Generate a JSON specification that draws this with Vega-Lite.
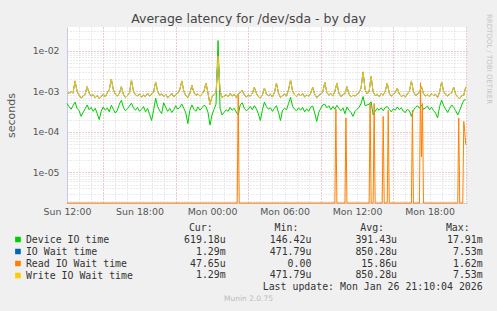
{
"$schema":"https://vega.github.io/schema/vega-lite/v6.json",
"width":400,"height":176,
"autosize":{"type":"none"},
"padding":{"left":67,"top":27,"right":30,"bottom":108},
"background":"#f0f0f0",
"config":{"view":{"fill":"#ffffff","stroke":null},"font":"DejaVu Sans"},
"title":{"text":"Average latency for /dev/sda - by day","font":"DejaVu Sans","fontSize":12.5,"fontWeight":"normal","color":"#444444","anchor":"middle","frame":"group","dx":-18.5,"offset":-12},
"datasets":{
"main":[
{"t":"2026-01-25T12:00","d":5.0e-4,"w":9.5e-4},{"t":"2026-01-25T12:10","d":4.2e-4,"w":8.8e-4},{"t":"2026-01-25T12:20","d":3.6e-4,"w":1.0e-3},{"t":"2026-01-25T12:30","d":4.4e-4,"w":9.0e-4},{"t":"2026-01-25T12:40","d":5.4e-4,"w":1.8e-3},{"t":"2026-01-25T12:50","d":3.8e-4,"w":1.0e-3},
{"t":"2026-01-25T13:00","d":3.3e-4,"w":8.0e-4},{"t":"2026-01-25T13:10","d":2.4e-4,"w":6.8e-4},{"t":"2026-01-25T13:20","d":3.0e-4,"w":7.5e-4},{"t":"2026-01-25T13:30","d":3.7e-4,"w":8.5e-4},{"t":"2026-01-25T13:40","d":4.6e-4,"w":1.3e-3},{"t":"2026-01-25T13:50","d":3.5e-4,"w":9.0e-4},
{"t":"2026-01-25T14:00","d":4.0e-4,"w":7.6e-4},{"t":"2026-01-25T14:10","d":3.2e-4,"w":8.2e-4},{"t":"2026-01-25T14:20","d":3.8e-4,"w":6.9e-4},{"t":"2026-01-25T14:30","d":2.8e-4,"w":7.8e-4},{"t":"2026-01-25T14:40","d":2.0e-4,"w":6.6e-4},{"t":"2026-01-25T14:50","d":3.2e-4,"w":7.4e-4},
{"t":"2026-01-25T15:00","d":4.1e-4,"w":8.6e-4},{"t":"2026-01-25T15:10","d":3.4e-4,"w":7.2e-4},{"t":"2026-01-25T15:20","d":3.9e-4,"w":9.2e-4},{"t":"2026-01-25T15:30","d":3.1e-4,"w":1.1e-3},{"t":"2026-01-25T15:40","d":4.5e-4,"w":2.0e-3},{"t":"2026-01-25T15:50","d":3.6e-4,"w":1.1e-3},
{"t":"2026-01-25T16:00","d":2.9e-4,"w":8.4e-4},{"t":"2026-01-25T16:10","d":3.4e-4,"w":7.6e-4},{"t":"2026-01-25T16:20","d":4.8e-4,"w":8.8e-4},{"t":"2026-01-25T16:30","d":6.0e-4,"w":1.3e-3},{"t":"2026-01-25T16:40","d":4.0e-4,"w":8.4e-4},{"t":"2026-01-25T16:50","d":3.3e-4,"w":7.0e-4},
{"t":"2026-01-25T17:00","d":3.7e-4,"w":7.8e-4},{"t":"2026-01-25T17:10","d":4.3e-4,"w":9.0e-4},{"t":"2026-01-25T17:20","d":5.1e-4,"w":1.9e-3},{"t":"2026-01-25T17:30","d":3.9e-4,"w":1.0e-3},{"t":"2026-01-25T17:40","d":3.4e-4,"w":8.2e-4},{"t":"2026-01-25T17:50","d":4.0e-4,"w":7.6e-4},
{"t":"2026-01-25T18:00","d":3.2e-4,"w":8.6e-4},{"t":"2026-01-25T18:10","d":3.6e-4,"w":7.2e-4},{"t":"2026-01-25T18:20","d":4.2e-4,"w":8.0e-4},{"t":"2026-01-25T18:30","d":3.1e-4,"w":7.4e-4},{"t":"2026-01-25T18:40","d":3.8e-4,"w":8.8e-4},{"t":"2026-01-25T18:50","d":2.7e-4,"w":7.6e-4},
{"t":"2026-01-25T19:00","d":1.9e-4,"w":8.4e-4},{"t":"2026-01-25T19:10","d":3.4e-4,"w":9.6e-4},{"t":"2026-01-25T19:20","d":6.7e-4,"w":1.7e-3},{"t":"2026-01-25T19:30","d":4.2e-4,"w":1.0e-3},{"t":"2026-01-25T19:40","d":3.3e-4,"w":8.0e-4},{"t":"2026-01-25T19:50","d":2.8e-4,"w":8.6e-4},
{"t":"2026-01-25T20:00","d":5.2e-4,"w":7.4e-4},{"t":"2026-01-25T20:10","d":4.0e-4,"w":8.4e-4},{"t":"2026-01-25T20:20","d":3.2e-4,"w":7.0e-4},{"t":"2026-01-25T20:30","d":3.8e-4,"w":7.8e-4},{"t":"2026-01-25T20:40","d":3.0e-4,"w":8.8e-4},{"t":"2026-01-25T20:50","d":3.5e-4,"w":7.2e-4},
{"t":"2026-01-25T21:00","d":4.4e-4,"w":8.2e-4},{"t":"2026-01-25T21:10","d":3.6e-4,"w":9.0e-4},{"t":"2026-01-25T21:20","d":4.0e-4,"w":1.1e-3},{"t":"2026-01-25T21:30","d":4.8e-4,"w":1.8e-3},{"t":"2026-01-25T21:40","d":3.8e-4,"w":1.0e-3},{"t":"2026-01-25T21:50","d":2.9e-4,"w":7.8e-4},
{"t":"2026-01-25T22:00","d":1.6e-4,"w":7.0e-4},{"t":"2026-01-25T22:10","d":3.4e-4,"w":9.0e-4},{"t":"2026-01-25T22:20","d":4.6e-4,"w":1.4e-3},{"t":"2026-01-25T22:30","d":3.6e-4,"w":9.4e-4},{"t":"2026-01-25T22:40","d":3.2e-4,"w":8.0e-4},{"t":"2026-01-25T22:50","d":4.1e-4,"w":8.6e-4},
{"t":"2026-01-25T23:00","d":3.4e-4,"w":7.6e-4},{"t":"2026-01-25T23:10","d":3.9e-4,"w":8.4e-4},{"t":"2026-01-25T23:20","d":4.5e-4,"w":1.0e-3},{"t":"2026-01-25T23:30","d":4.2e-4,"w":1.6e-3},{"t":"2026-01-25T23:40","d":3.0e-4,"w":9.0e-4},{"t":"2026-01-25T23:50","d":1.46e-4,"w":4.72e-4},
{"t":"2026-01-26T00:00","d":2.6e-4,"w":7.4e-4},{"t":"2026-01-26T00:10","d":3.6e-4,"w":8.2e-4},{"t":"2026-01-26T00:20","d":4.8e-4,"w":9.0e-4},{"t":"2026-01-26T00:30","d":1.791e-2,"w":7.53e-3},{"t":"2026-01-26T00:40","d":3.8e-4,"w":1.0e-3},{"t":"2026-01-26T00:50","d":2.6e-4,"w":7.0e-4},
{"t":"2026-01-26T01:00","d":3.0e-4,"w":7.6e-4},{"t":"2026-01-26T01:10","d":3.5e-4,"w":8.2e-4},{"t":"2026-01-26T01:20","d":3.2e-4,"w":7.2e-4},{"t":"2026-01-26T01:30","d":4.0e-4,"w":8.8e-4},{"t":"2026-01-26T01:40","d":3.4e-4,"w":7.6e-4},{"t":"2026-01-26T01:50","d":3.8e-4,"w":8.4e-4},
{"t":"2026-01-26T02:00","d":3.1e-4,"w":7.0e-4},{"t":"2026-01-26T02:10","d":2.6e-4,"w":8.6e-4},{"t":"2026-01-26T02:20","d":4.6e-4,"w":9.2e-4},{"t":"2026-01-26T02:30","d":5.2e-4,"w":1.05e-3},{"t":"2026-01-26T02:40","d":3.8e-4,"w":8.2e-4},{"t":"2026-01-26T02:50","d":3.3e-4,"w":7.2e-4},
{"t":"2026-01-26T03:00","d":3.6e-4,"w":8.0e-4},{"t":"2026-01-26T03:10","d":4.2e-4,"w":7.6e-4},{"t":"2026-01-26T03:20","d":3.5e-4,"w":8.8e-4},{"t":"2026-01-26T03:30","d":4.4e-4,"w":1.25e-3},{"t":"2026-01-26T03:40","d":3.7e-4,"w":9.0e-4},{"t":"2026-01-26T03:50","d":2.8e-4,"w":7.4e-4},
{"t":"2026-01-26T04:00","d":1.9e-4,"w":6.8e-4},{"t":"2026-01-26T04:10","d":3.4e-4,"w":8.0e-4},{"t":"2026-01-26T04:20","d":5.4e-4,"w":1.2e-3},{"t":"2026-01-26T04:30","d":4.2e-4,"w":8.6e-4},{"t":"2026-01-26T04:40","d":3.6e-4,"w":7.8e-4},{"t":"2026-01-26T04:50","d":3.9e-4,"w":8.4e-4},
{"t":"2026-01-26T05:00","d":3.2e-4,"w":7.2e-4},{"t":"2026-01-26T05:10","d":3.8e-4,"w":9.4e-4},{"t":"2026-01-26T05:20","d":4.4e-4,"w":1.6e-3},{"t":"2026-01-26T05:30","d":3.0e-4,"w":9.0e-4},{"t":"2026-01-26T05:40","d":1.9e-4,"w":7.0e-4},{"t":"2026-01-26T05:50","d":3.4e-4,"w":7.8e-4},
{"t":"2026-01-26T06:00","d":3.8e-4,"w":8.4e-4},{"t":"2026-01-26T06:10","d":3.5e-4,"w":7.6e-4},{"t":"2026-01-26T06:20","d":5.0e-4,"w":1.1e-3},{"t":"2026-01-26T06:30","d":7.1e-4,"w":1.9e-3},{"t":"2026-01-26T06:40","d":4.2e-4,"w":1.0e-3},{"t":"2026-01-26T06:50","d":3.6e-4,"w":8.2e-4},
{"t":"2026-01-26T07:00","d":3.3e-4,"w":7.4e-4},{"t":"2026-01-26T07:10","d":3.9e-4,"w":8.6e-4},{"t":"2026-01-26T07:20","d":3.4e-4,"w":7.8e-4},{"t":"2026-01-26T07:30","d":4.0e-4,"w":8.8e-4},{"t":"2026-01-26T07:40","d":3.1e-4,"w":7.2e-4},{"t":"2026-01-26T07:50","d":3.7e-4,"w":8.0e-4},
{"t":"2026-01-26T08:00","d":3.2e-4,"w":7.6e-4},{"t":"2026-01-26T08:10","d":4.1e-4,"w":9.0e-4},{"t":"2026-01-26T08:20","d":4.3e-4,"w":1.25e-3},{"t":"2026-01-26T08:30","d":2.9e-4,"w":8.4e-4},{"t":"2026-01-26T08:40","d":1.8e-4,"w":7.0e-4},{"t":"2026-01-26T08:50","d":3.0e-4,"w":7.8e-4},
{"t":"2026-01-26T09:00","d":3.8e-4,"w":8.6e-4},{"t":"2026-01-26T09:10","d":4.6e-4,"w":9.6e-4},{"t":"2026-01-26T09:20","d":4.8e-4,"w":1.65e-3},{"t":"2026-01-26T09:30","d":3.9e-4,"w":9.4e-4},{"t":"2026-01-26T09:40","d":4.4e-4,"w":8.0e-4},{"t":"2026-01-26T09:50","d":3.5e-4,"w":8.8e-4},
{"t":"2026-01-26T10:00","d":4.2e-4,"w":7.6e-4},{"t":"2026-01-26T10:10","d":3.6e-4,"w":1.0e-3},{"t":"2026-01-26T10:20","d":4.5e-4,"w":1.6e-3},{"t":"2026-01-26T10:30","d":3.8e-4,"w":9.0e-4},{"t":"2026-01-26T10:40","d":3.3e-4,"w":7.4e-4},{"t":"2026-01-26T10:50","d":3.9e-4,"w":8.2e-4},
{"t":"2026-01-26T11:00","d":2.8e-4,"w":8.8e-4},{"t":"2026-01-26T11:10","d":4.1e-4,"w":1.3e-3},{"t":"2026-01-26T11:20","d":3.4e-4,"w":8.6e-4},{"t":"2026-01-26T11:30","d":3.0e-4,"w":7.2e-4},{"t":"2026-01-26T11:40","d":2.4e-4,"w":8.0e-4},{"t":"2026-01-26T11:50","d":3.2e-4,"w":7.6e-4},
{"t":"2026-01-26T12:00","d":3.6e-4,"w":8.4e-4},{"t":"2026-01-26T12:10","d":4.0e-4,"w":9.2e-4},{"t":"2026-01-26T12:20","d":5.0e-4,"w":1.2e-3},{"t":"2026-01-26T12:30","d":7.4e-4,"w":3.0e-3},{"t":"2026-01-26T12:40","d":4.4e-4,"w":1.1e-3},{"t":"2026-01-26T12:50","d":4.6e-4,"w":8.6e-4},
{"t":"2026-01-26T13:00","d":4.8e-4,"w":1.0e-3},{"t":"2026-01-26T13:10","d":5.5e-4,"w":2.3e-3},{"t":"2026-01-26T13:20","d":2.6e-4,"w":9.6e-4},{"t":"2026-01-26T13:30","d":3.2e-4,"w":7.8e-4},{"t":"2026-01-26T13:40","d":3.8e-4,"w":8.4e-4},{"t":"2026-01-26T13:50","d":3.4e-4,"w":7.4e-4},
{"t":"2026-01-26T14:00","d":3.9e-4,"w":8.8e-4},{"t":"2026-01-26T14:10","d":3.3e-4,"w":8.0e-4},{"t":"2026-01-26T14:20","d":4.0e-4,"w":1.0e-3},{"t":"2026-01-26T14:30","d":4.2e-4,"w":1.6e-3},{"t":"2026-01-26T14:40","d":3.6e-4,"w":9.0e-4},{"t":"2026-01-26T14:50","d":3.1e-4,"w":7.6e-4},
{"t":"2026-01-26T15:00","d":3.7e-4,"w":8.2e-4},{"t":"2026-01-26T15:10","d":3.4e-4,"w":9.4e-4},{"t":"2026-01-26T15:20","d":4.1e-4,"w":1.2e-3},{"t":"2026-01-26T15:30","d":3.5e-4,"w":8.6e-4},{"t":"2026-01-26T15:40","d":3.9e-4,"w":7.4e-4},{"t":"2026-01-26T15:50","d":3.2e-4,"w":8.0e-4},
{"t":"2026-01-26T16:00","d":3.0e-4,"w":7.2e-4},{"t":"2026-01-26T16:10","d":3.6e-4,"w":8.6e-4},{"t":"2026-01-26T16:20","d":3.3e-4,"w":1.0e-3},{"t":"2026-01-26T16:30","d":2.4e-4,"w":1.8e-3},{"t":"2026-01-26T16:40","d":3.4e-4,"w":1.0e-3},{"t":"2026-01-26T16:50","d":4.0e-4,"w":7.8e-4},
{"t":"2026-01-26T17:00","d":4.4e-4,"w":8.4e-4},{"t":"2026-01-26T17:10","d":3.8e-4,"w":9.6e-4},{"t":"2026-01-26T17:20","d":4.6e-4,"w":1.3e-3},{"t":"2026-01-26T17:30","d":3.6e-4,"w":8.8e-4},{"t":"2026-01-26T17:40","d":3.9e-4,"w":7.6e-4},{"t":"2026-01-26T17:50","d":4.3e-4,"w":8.2e-4},
{"t":"2026-01-26T18:00","d":3.5e-4,"w":7.4e-4},{"t":"2026-01-26T18:10","d":4.0e-4,"w":8.8e-4},{"t":"2026-01-26T18:20","d":3.3e-4,"w":7.8e-4},{"t":"2026-01-26T18:30","d":2.9e-4,"w":8.4e-4},{"t":"2026-01-26T18:40","d":2.2e-4,"w":7.0e-4},{"t":"2026-01-26T18:50","d":4.2e-4,"w":9.6e-4},
{"t":"2026-01-26T19:00","d":6.0e-4,"w":1.7e-3},{"t":"2026-01-26T19:10","d":4.4e-4,"w":1.0e-3},{"t":"2026-01-26T19:20","d":3.6e-4,"w":8.2e-4},{"t":"2026-01-26T19:30","d":3.0e-4,"w":7.6e-4},{"t":"2026-01-26T19:40","d":3.8e-4,"w":8.6e-4},{"t":"2026-01-26T19:50","d":4.6e-4,"w":9.2e-4},
{"t":"2026-01-26T20:00","d":4.0e-4,"w":1.25e-3},{"t":"2026-01-26T20:10","d":3.3e-4,"w":8.4e-4},{"t":"2026-01-26T20:20","d":2.6e-4,"w":7.2e-4},{"t":"2026-01-26T20:30","d":3.4e-4,"w":6.6e-4},{"t":"2026-01-26T20:40","d":4.6e-4,"w":7.8e-4},{"t":"2026-01-26T20:50","d":6.0e-4,"w":8.0e-4},
{"t":"2026-01-26T21:00","d":6.19e-4,"w":1.29e-3}
],
"read":[
{"t":"2026-01-25T12:00","r":0},{"t":"2026-01-26T02:05","r":0},{"t":"2026-01-26T02:10","r":8.0e-4},{"t":"2026-01-26T02:15","r":0},
{"t":"2026-01-26T10:10","r":0},{"t":"2026-01-26T10:15","r":3.6e-4},{"t":"2026-01-26T10:20","r":0},
{"t":"2026-01-26T11:00","r":0},{"t":"2026-01-26T11:05","r":2.2e-4},{"t":"2026-01-26T11:10","r":0},
{"t":"2026-01-26T13:00","r":0},{"t":"2026-01-26T13:05","r":5.0e-4},{"t":"2026-01-26T13:10","r":0},
{"t":"2026-01-26T13:20","r":0},{"t":"2026-01-26T13:25","r":5.0e-4},{"t":"2026-01-26T13:30","r":0},
{"t":"2026-01-26T14:05","r":0},{"t":"2026-01-26T14:10","r":2.4e-4},{"t":"2026-01-26T14:15","r":0},
{"t":"2026-01-26T14:30","r":0},{"t":"2026-01-26T14:35","r":3.4e-4},{"t":"2026-01-26T14:40","r":0},
{"t":"2026-01-26T16:30","r":0},{"t":"2026-01-26T16:35","r":3.4e-4},{"t":"2026-01-26T16:40","r":0},
{"t":"2026-01-26T17:10","r":0},{"t":"2026-01-26T17:15","r":1.62e-3},{"t":"2026-01-26T17:20","r":2.4e-5},{"t":"2026-01-26T17:25","r":5.0e-4},{"t":"2026-01-26T17:30","r":0},
{"t":"2026-01-26T20:20","r":0},{"t":"2026-01-26T20:25","r":2.2e-4},{"t":"2026-01-26T20:30","r":0},
{"t":"2026-01-26T20:45","r":0},{"t":"2026-01-26T20:50","r":1.8e-4},{"t":"2026-01-26T20:55","r":1.0e-4},{"t":"2026-01-26T21:00","r":4.765e-5}
],
"table":[
{"name":"Device IO time","Cur":"619.18u","Min":"146.42u","Avg":"391.43u","Max":"17.91m"},
{"name":"IO Wait time","Cur":"1.29m","Min":"471.79u","Avg":"850.28u","Max":"7.53m"},
{"name":"Read IO Wait time","Cur":"47.65u","Min":"0.00","Avg":"15.86u","Max":"1.62m"},
{"name":"Write IO Wait time","Cur":"1.29m","Min":"471.79u","Avg":"850.28u","Max":"7.53m"}
],
"heads":[{"col":"Cur","label":"Cur:"},{"col":"Min","label":"Min:"},{"col":"Avg","label":"Avg:"},{"col":"Max","label":"Max:"}]
},
"resolve":{"scale":{"x":"independent","y":"independent"}},
"layer":[
{"data":{"name":"main"},"mark":{"type":"line","strokeWidth":1},
 "encoding":{
  "x":{"field":"t","type":"temporal","scale":{"type":"time","domain":[{"year":2026,"month":1,"date":25,"hours":12},{"year":2026,"month":1,"date":26,"hours":21,"minutes":6}],"nice":false},
   "axis":{"title":null,"grid":true,"gridColor":"#d6d6d6","gridDash":[1,2],
    "values":[{"year":2026,"month":1,"date":25,"hours":12},{"year":2026,"month":1,"date":25,"hours":13},{"year":2026,"month":1,"date":25,"hours":14},{"year":2026,"month":1,"date":25,"hours":15},{"year":2026,"month":1,"date":25,"hours":16},{"year":2026,"month":1,"date":25,"hours":17},{"year":2026,"month":1,"date":25,"hours":18},{"year":2026,"month":1,"date":25,"hours":19},{"year":2026,"month":1,"date":25,"hours":20},{"year":2026,"month":1,"date":25,"hours":21},{"year":2026,"month":1,"date":25,"hours":22},{"year":2026,"month":1,"date":25,"hours":23},
     {"year":2026,"month":1,"date":26,"hours":0},{"year":2026,"month":1,"date":26,"hours":1},{"year":2026,"month":1,"date":26,"hours":2},{"year":2026,"month":1,"date":26,"hours":3},{"year":2026,"month":1,"date":26,"hours":4},{"year":2026,"month":1,"date":26,"hours":5},{"year":2026,"month":1,"date":26,"hours":6},{"year":2026,"month":1,"date":26,"hours":7},{"year":2026,"month":1,"date":26,"hours":8},{"year":2026,"month":1,"date":26,"hours":9},{"year":2026,"month":1,"date":26,"hours":10},{"year":2026,"month":1,"date":26,"hours":11},
     {"year":2026,"month":1,"date":26,"hours":12},{"year":2026,"month":1,"date":26,"hours":13},{"year":2026,"month":1,"date":26,"hours":14},{"year":2026,"month":1,"date":26,"hours":15},{"year":2026,"month":1,"date":26,"hours":16},{"year":2026,"month":1,"date":26,"hours":17},{"year":2026,"month":1,"date":26,"hours":18},{"year":2026,"month":1,"date":26,"hours":19},{"year":2026,"month":1,"date":26,"hours":20},{"year":2026,"month":1,"date":26,"hours":21}],
    "labelExpr":"hours(datum.value) % 6 === 0 ? timeFormat(datum.value, '%a %H:%M') : ''","ticks":false,"domainColor":"#c8c8f0","labelFont":"DejaVu Sans","labelFontSize":9.4,"labelColor":"#555555","labelPadding":4,"labelOverlap":false,"labelFlush":false,"labelBound":false}},
  "y":{"field":"d","type":"quantitative","scale":{"type":"log","domain":[1.75e-6,0.0385],"nice":false,"clamp":true},
   "axis":{"title":"seconds","values":[2e-6,3e-6,4e-6,5e-6,6e-6,7e-6,8e-6,9e-6,1e-5,2e-5,3e-5,4e-5,5e-5,6e-5,7e-5,8e-5,9e-5,1e-4,2e-4,3e-4,4e-4,5e-4,6e-4,7e-4,8e-4,9e-4,1e-3,2e-3,3e-3,4e-3,5e-3,6e-3,7e-3,8e-3,9e-3,1e-2,2e-2,3e-2],
    "labelExpr":"abs(log(datum.value)/LN10 - round(log(datum.value)/LN10)) < 0.01 ? '1e-0' + (-round(log(datum.value)/LN10)) : ''",
    "grid":true,"gridColor":"#d6d6d6","gridDash":[1,2],"ticks":false,"domainColor":"#c8c8f0","labelFont":"DejaVu Sans","labelFontSize":9.3,"labelColor":"#555555","labelPadding":8,"labelOverlap":false,
    "titleFont":"DejaVu Sans","titleFontSize":11,"titleFontWeight":"normal","titleColor":"#555555","titlePadding":16}},
  "color":{"datum":"Device IO time","type":"nominal","scale":{"domain":["Device IO time","IO Wait time","Read IO Wait time","Write IO Wait time"],"range":["#00cc00","#0066b3","#ff8000","#ffcc00"]},
   "legend":{"orient":"none","legendX":-54,"legendY":207.5,"title":null,"direction":"vertical","symbolType":"square","symbolSize":0.2,"symbolStrokeWidth":5.2,"labelFont":"DejaVu Sans Mono","labelFontSize":9.9,"labelColor":"#333333","labelOffset":3,"rowPadding":2,"clipHeight":10,"padding":0,"labelLimit":300}}
 }},
{"data":{"name":"main"},"mark":{"type":"line","strokeWidth":1},
 "encoding":{
  "x":{"field":"t","type":"temporal","scale":{"type":"time","domain":[{"year":2026,"month":1,"date":25,"hours":12},{"year":2026,"month":1,"date":26,"hours":21,"minutes":6}],"nice":false},
   "axis":{"orient":"bottom","title":null,"labels":false,"ticks":false,"domain":false,"grid":true,"gridColor":"#e8a8a8","gridDash":[1,2],
    "values":[{"year":2026,"month":1,"date":25,"hours":15},{"year":2026,"month":1,"date":25,"hours":21},{"year":2026,"month":1,"date":26,"hours":3},{"year":2026,"month":1,"date":26,"hours":9},{"year":2026,"month":1,"date":26,"hours":15},{"year":2026,"month":1,"date":26,"hours":21}]}},
  "y":{"field":"w","type":"quantitative","scale":{"type":"log","domain":[1.75e-6,0.0385],"nice":false,"clamp":true},
   "axis":{"orient":"left","title":null,"labels":false,"ticks":false,"domain":false,"grid":true,"gridColor":"#e8a8a8","gridDash":[1,2],"values":[1e-5,1e-4,1e-3,1e-2]}},
  "color":{"datum":"IO Wait time","type":"nominal"}
 }},
{"data":{"name":"read"},"mark":{"type":"line","strokeWidth":1,"invalid":null},
 "encoding":{
  "x":{"field":"t","type":"temporal","scale":{"type":"time","domain":[{"year":2026,"month":1,"date":25,"hours":12},{"year":2026,"month":1,"date":26,"hours":21,"minutes":6}],"nice":false},"axis":null},
  "y":{"field":"r","type":"quantitative","scale":{"type":"log","domain":[1.75e-6,0.0385],"nice":false,"clamp":true},"axis":null},
  "color":{"datum":"Read IO Wait time","type":"nominal"}
 }},
{"data":{"name":"main"},"mark":{"type":"line","strokeWidth":1},
 "encoding":{
  "x":{"field":"t","type":"temporal","scale":{"type":"time","domain":[{"year":2026,"month":1,"date":25,"hours":12},{"year":2026,"month":1,"date":26,"hours":21,"minutes":6}],"nice":false},"axis":null},
  "y":{"field":"w","type":"quantitative","scale":{"type":"log","domain":[1.75e-6,0.0385],"nice":false,"clamp":true},
   "axis":{"orient":"right","title":"RRDTOOL / TOBI OETIKER","labels":false,"ticks":false,"domain":false,"grid":false,"titleFont":"DejaVu Sans","titleFontSize":7,"titleFontWeight":"normal","titleColor":"#c4c4c4","titleAngle":90,"titleX":21.5,"titleY":31.5,"titleAlign":"center","titleBaseline":"middle"}},
  "color":{"datum":"Write IO Wait time","type":"nominal"}
 }},
{"data":{"name":"table"},"transform":[{"fold":["Cur","Min","Avg","Max"],"as":["key","value"]}],
 "mark":{"type":"text","align":"right","baseline":"middle","font":"DejaVu Sans Mono","fontSize":9.9,"color":"#333333"},
 "encoding":{
  "x":{"field":"key","type":"nominal","scale":{"type":"point","domain":["Cur","Min","Avg","Max"],"range":[158.7,415.7],"padding":0},"axis":null},
  "y":{"field":"name","type":"nominal","scale":{"type":"point","domain":["header","Device IO time","IO Wait time","Read IO Wait time","Write IO Wait time","update","munin"],"range":[200.7,272.3],"padding":0},"axis":null},
  "text":{"field":"value","type":"nominal"}
 }},
{"data":{"name":"heads"},
 "mark":{"type":"text","align":"right","baseline":"middle","font":"DejaVu Sans Mono","fontSize":9.9,"color":"#333333","dx":-13},
 "encoding":{
  "x":{"field":"col","type":"nominal","scale":{"type":"point","domain":["Cur","Min","Avg","Max"],"range":[158.7,415.7],"padding":0},"axis":null},
  "y":{"datum":"header","type":"nominal","scale":{"type":"point","domain":["header","Device IO time","IO Wait time","Read IO Wait time","Write IO Wait time","update","munin"],"range":[200.7,272.3],"padding":0},"axis":null},
  "text":{"field":"label","type":"nominal"}
 }},
{"data":{"values":[{"label":"Last update: Mon Jan 26 21:10:04 2026"}]},
 "mark":{"type":"text","align":"right","baseline":"middle","font":"DejaVu Sans Mono","fontSize":9.9,"color":"#333333"},
 "encoding":{
  "x":{"datum":"Max","type":"nominal","scale":{"type":"point","domain":["Cur","Min","Avg","Max"],"range":[158.7,415.7],"padding":0},"axis":null},
  "y":{"datum":"update","type":"nominal","scale":{"type":"point","domain":["header","Device IO time","IO Wait time","Read IO Wait time","Write IO Wait time","update","munin"],"range":[200.7,272.3],"padding":0},"axis":null},
  "text":{"field":"label","type":"nominal"}
 }},
{"data":{"values":[{"label":"Munin 2.0.75"}]},
 "mark":{"type":"text","align":"center","baseline":"middle","font":"DejaVu Sans","fontSize":7.5,"color":"#bbbbbb","dx":-18.5},
 "encoding":{
  "y":{"datum":"munin","type":"nominal","scale":{"type":"point","domain":["header","Device IO time","IO Wait time","Read IO Wait time","Write IO Wait time","update","munin"],"range":[200.7,272.3],"padding":0},"axis":null},
  "text":{"field":"label","type":"nominal"}
 }}
]
}
